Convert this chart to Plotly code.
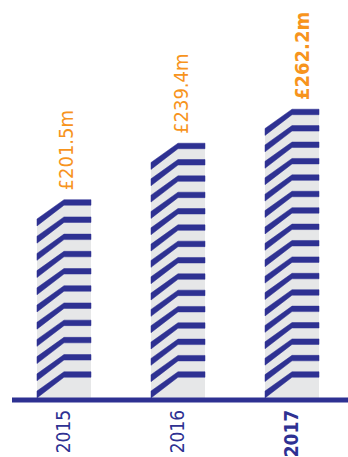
import numpy as np
import plotly.graph_objects as go

# ---- data ----
years = ["2015", "2016", "2017"]
values = [201.5, 239.4, 262.2]
value_labels = ["£201.5m", "£239.4m", "£262.2m"]
highlight = [False, False, True]

# ---- style ----
BLUE = "#2e3192"
GREY = "#e6e7e8"
ORANGE = "#f7941d"
FONT = "DejaVu Sans Condensed, Roboto Condensed, Roboto, sans-serif"

W, H = 348, 457
M_L, M_R, M_T, M_B = 12, 0, 0, 57
X_RANGE = [-0.456, 2.491]
Y_RANGE = [69.0, 337.3]
plot_w = W - M_L - M_R
plot_h = H - M_T - M_B
px_x = plot_w / (X_RANGE[1] - X_RANGE[0])  # pixels per x unit
px_y = plot_h / (Y_RANGE[1] - Y_RANGE[0])  # pixels per y unit

half_w = 27 / px_x          # bar half width
stripe_t = 5.5 / px_y / 2   # half thickness of horizontal part
drop = 20 / px_y            # diagonal drop at left edge
theta = np.arctan(20 / 26)
stripe_td = (5.5 / 2) / np.cos(theta) / px_y
bottom_stripe = Y_RANGE[0] + 25.5 / px_y
nominal_gap = 11.0
label_xshift = [2, 3, 10]

fig = go.Figure()

for i, v in enumerate(values):
    L, R, C = i - half_w, i + half_w, i
    base = Y_RANGE[0]
    # grey bar body with slanted top-left corner
    fig.add_trace(go.Scatter(
        x=[L, L, C, R, R, L],
        y=[base, v - drop, v, v, base, base],
        fill="toself", fillcolor=GREY, mode="lines",
        line=dict(width=0, color=GREY), hoverinfo="skip", showlegend=False))
    # stripes
    n = int((v - bottom_stripe) / nominal_gap + 0.45) + 1
    levels = np.linspace(bottom_stripe, v, n)
    xs, ys = [], []
    for lv in levels:
        xs += [L, C, R, R, C, L, L, None]
        ys += [lv - drop + stripe_td, lv + stripe_t, lv + stripe_t,
               lv - stripe_t, lv - stripe_t, lv - drop - stripe_td,
               lv - drop + stripe_td, None]
    fig.add_trace(go.Scatter(
        x=xs, y=ys, fill="toself", fillcolor=BLUE, mode="lines",
        line=dict(width=0.5, color=BLUE), hoverinfo="skip", showlegend=False,
        connectgaps=False))
    txt = f"<b>{value_labels[i]}</b>" if highlight[i] else value_labels[i]
    fig.add_annotation(
        x=C, y=v, text=txt, showarrow=False, textangle=-90,
        xanchor="center", yanchor="bottom", yshift=10, xshift=label_xshift[i],
        font=dict(family=FONT, size=20, color=ORANGE))

# baseline
fig.add_shape(type="line", xref="paper", yref="paper", x0=0, x1=1, y0=0, y1=0,
              line=dict(color=BLUE, width=5), layer="above")

ticktext = [f"<b>{y}</b>" if h else y for y, h in zip(years, highlight)]

fig.update_layout(
    width=W, height=H, autosize=False,
    margin=dict(l=M_L, r=M_R, t=M_T, b=M_B, pad=0, autoexpand=False),
    paper_bgcolor="white", plot_bgcolor="white",
    showlegend=False,
    xaxis=dict(range=X_RANGE, showgrid=False, zeroline=False, showline=False,
               automargin=False,
               tickmode="array", tickvals=list(range(len(years))), ticktext=ticktext,
               tickangle=-90, ticks="", ticklabelstandoff=5,
               tickfont=dict(family=FONT, size=19, color=BLUE), fixedrange=True),
    yaxis=dict(range=Y_RANGE, visible=False, fixedrange=True, automargin=False),
)

fig.write_html("out.html", config={"displayModeBar": False},
               post_script="document.body.style.margin='0';")
